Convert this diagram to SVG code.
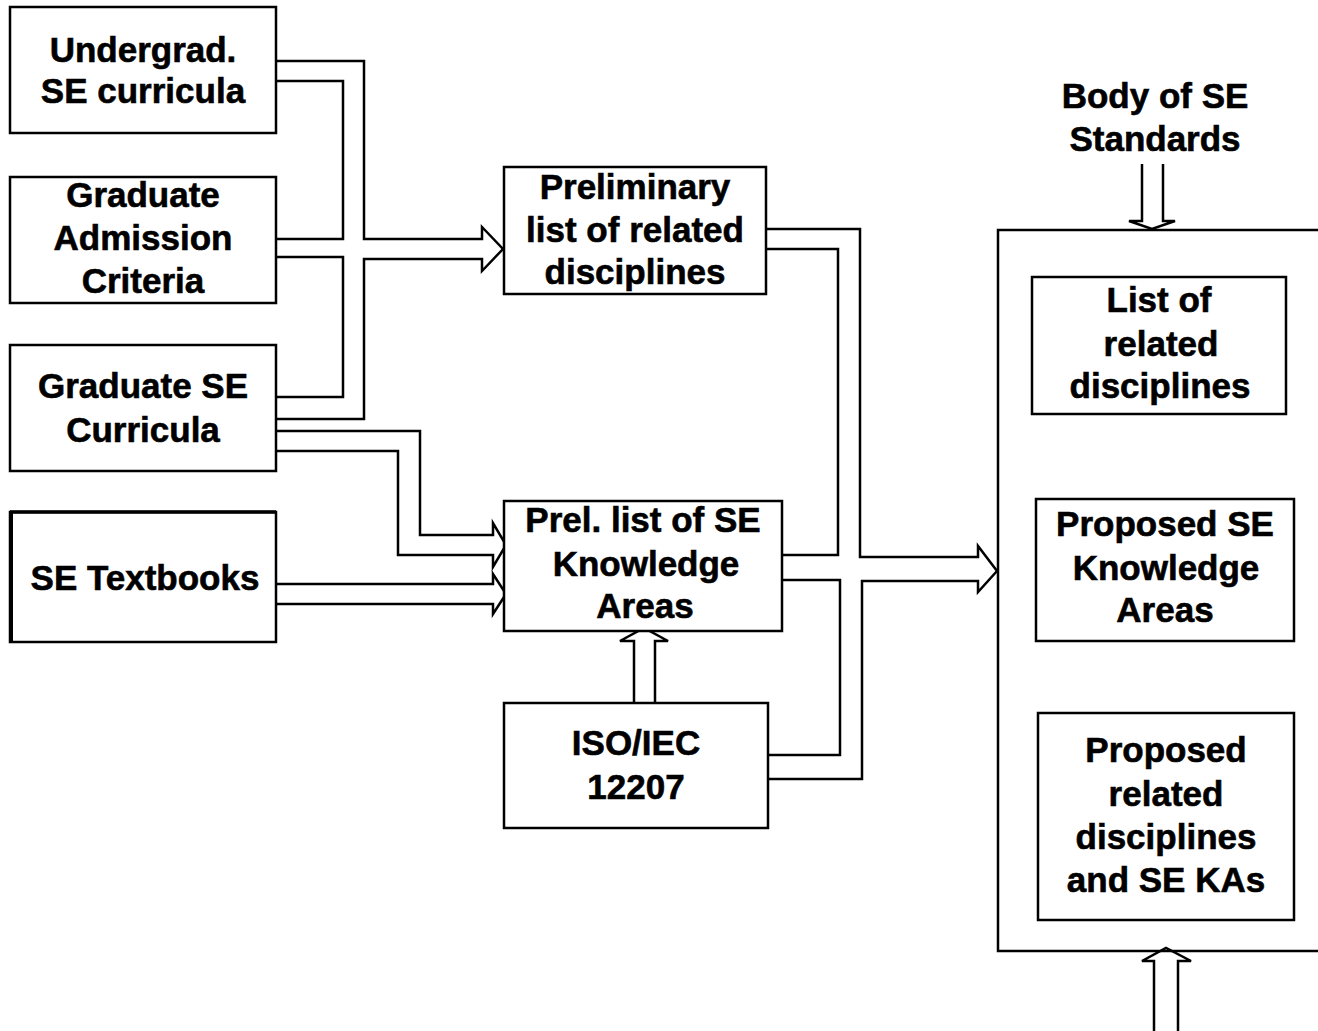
<svg xmlns="http://www.w3.org/2000/svg" width="1318" height="1031" viewBox="0 0 1318 1031">
  <style>
    .box { fill: #ffffff; stroke: #000000; stroke-width: 2.5; }
    .wire { fill: none; stroke: #000000; stroke-width: 2.5; stroke-linejoin: miter; }
    .label { font-family: "Liberation Sans", Arial, sans-serif; font-weight: bold; font-size: 35px; fill: #000000; stroke: #000000; stroke-width: 0.6; text-anchor: middle; }
  </style>
  <rect x="0" y="0" width="1318" height="1031" fill="#ffffff"/>

  <!-- block arrows and merging channels -->
  <g id="connectors">
    <path class="wire" d="M276,61 H364 V239 H482 V227 L503,249 L482,271 V259 H364 V419 H276"/>
    <path class="wire" d="M276,81 H343 V239 H276"/>
    <path class="wire" d="M276,257 H343 V397 H276"/>
    <path class="wire" d="M276,431 H420 V535 H493 V523 L506,545 L493,567 V555 H398 V451 H276"/>
    <path class="wire" d="M276,584 H493 V574 L506,594 L493,614 V604 H276"/>
    <path class="wire" d="M634,702 V641 H620 L644,628 L668,641 H655 V702"/>
    <path class="wire" d="M766,229 H860 V557 H978 V546 L997,571 L978,592 V581 H862 V779 H768"/>
    <path class="wire" d="M766,249 H838 V555 H782"/>
    <path class="wire" d="M782,580 H840 V755 H768"/>
    <path class="wire" d="M1142,164 V221 H1129 L1152,229 L1175,221 H1163 V164"/>
    <path class="wire" d="M1154,1031 V961 H1142 L1166,948 L1191,961 H1178 V1031"/>
  </g>

  <!-- open container on the right -->
  <g id="container">
    <path class="wire" d="M1318,230 H998 V951 H1318"/>
  </g>

  <g id="undergrad">
    <rect class="box" x="10" y="7" width="266" height="126"/>
    <text class="label" x="143" y="62">Undergrad.</text>
    <text class="label" x="143" y="103">SE curricula</text>
  </g>

  <g id="admission">
    <rect class="box" x="10" y="177" width="266" height="126"/>
    <text class="label" x="143" y="207">Graduate</text>
    <text class="label" x="143" y="250">Admission</text>
    <text class="label" x="143" y="293">Criteria</text>
  </g>

  <g id="grad-curricula">
    <rect class="box" x="10" y="345" width="266" height="126"/>
    <text class="label" x="143" y="398">Graduate SE</text>
    <text class="label" x="143" y="442">Curricula</text>
  </g>

  <g id="textbooks">
    <rect class="box" x="10" y="512" width="266" height="130"/>
    <path d="M11,512 V642" stroke="#000" stroke-width="4"/>
    <path d="M10,512 H276" stroke="#000" stroke-width="3.5"/>
    <text class="label" x="145" y="590">SE Textbooks</text>
  </g>

  <g id="prelim-disciplines">
    <rect class="box" x="504" y="167" width="262" height="127"/>
    <text class="label" x="635" y="199">Preliminary</text>
    <text class="label" x="635" y="242">list of related</text>
    <text class="label" x="635" y="284">disciplines</text>
  </g>

  <g id="prelim-kas">
    <rect class="box" x="504" y="501" width="278" height="130"/>
    <text class="label" x="643" y="532">Prel. list of SE</text>
    <text class="label" x="646" y="576">Knowledge</text>
    <text class="label" x="645" y="618">Areas</text>
  </g>

  <g id="iso">
    <rect class="box" x="504" y="703" width="264" height="125"/>
    <text class="label" x="636" y="755">ISO/IEC</text>
    <text class="label" x="636" y="799">12207</text>
  </g>

  <g id="standards">
    <text class="label" x="1155" y="108">Body of SE</text>
    <text class="label" x="1155" y="151">Standards</text>
  </g>

  <g id="related-list">
    <rect class="box" x="1032" y="277" width="254" height="137"/>
    <text class="label" x="1159" y="312">List of</text>
    <text class="label" x="1161" y="356">related</text>
    <text class="label" x="1160" y="398">disciplines</text>
  </g>

  <g id="proposed-kas">
    <rect class="box" x="1036" y="499" width="258" height="142"/>
    <text class="label" x="1165" y="536">Proposed SE</text>
    <text class="label" x="1166" y="580">Knowledge</text>
    <text class="label" x="1165" y="622">Areas</text>
  </g>

  <g id="proposed-combined">
    <rect class="box" x="1038" y="713" width="256" height="207"/>
    <text class="label" x="1166" y="762">Proposed</text>
    <text class="label" x="1166" y="806">related</text>
    <text class="label" x="1166" y="849">disciplines</text>
    <text class="label" x="1166" y="892">and SE KAs</text>
  </g>
</svg>
